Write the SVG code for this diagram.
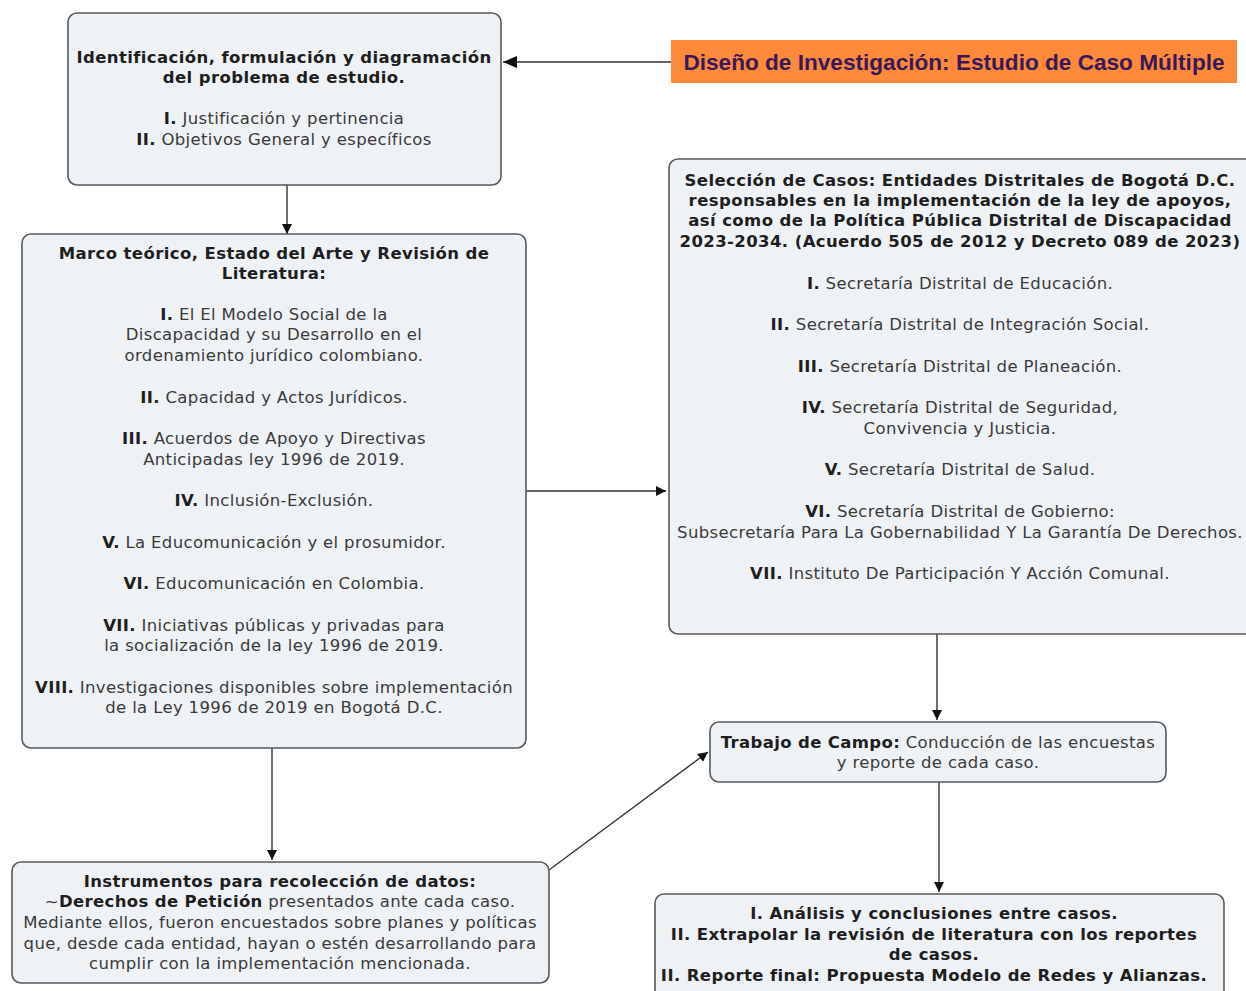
<svg xmlns="http://www.w3.org/2000/svg" width="1246" height="991" viewBox="0 0 1246 991">
<style>
.box{fill:#eef2f5;stroke:#555a5e;stroke-width:1.6}
text{font-family:"DejaVu Sans",Verdana,sans-serif;font-size:16.5px;letter-spacing:0.35px;fill:#3a3a3a;text-anchor:middle}
.h{font-weight:bold;fill:#1e1e1e;letter-spacing:0.4px}
.b{font-weight:bold;fill:#1e1e1e}
.con{stroke:#333;stroke-width:1.4;fill:none;marker-end:url(#arr)}
.title{font-family:"Liberation Sans",Arial,sans-serif;font-weight:bold;font-size:22.6px;letter-spacing:0;fill:#3a1858;text-anchor:middle}
</style>
<defs>
<marker id="arr" viewBox="0 0 10 10" refX="10" refY="5" markerWidth="10" markerHeight="10" markerUnits="userSpaceOnUse" orient="auto">
<path d="M0,0 L10,5 L0,10 z" fill="#111"/>
</marker>
</defs>
<rect width="1246" height="991" fill="#ffffff"/>
<g id="connectors">
<path class="con" d="M671,62 L503,62" style="marker-end:none"/>
<path d="M503,62 L517,56 L517,68 z" fill="#111"/>
<path class="con" d="M287,185 L287,234"/>
<path class="con" d="M526,491 L666,491"/>
<path class="con" d="M937,634 L937,720"/>
<path class="con" d="M272,748 L272,860"/>
<path class="con" d="M549,870 L708,752"/>
<path class="con" d="M939,782 L939,892"/>
</g>
<g id="n-problema">
<rect class="box" x="68" y="13" width="433" height="172" rx="9"/>
<text x="284" y="63" class="h">Identificación, formulación y diagramación</text>
<text x="284" y="83" class="h">del problema de estudio.</text>
<text x="284" y="124"><tspan class="b">I.</tspan> Justificación y pertinencia</text>
<text x="284" y="145"><tspan class="b">II.</tspan> Objetivos General y específicos</text>
</g>
<g id="n-diseno">
<rect x="671" y="40" width="566" height="43" fill="#fd8a3b"/>
<text class="title" x="954" y="70">Diseño de Investigación: Estudio de Caso Múltiple</text>
</g>
<g id="n-marco">
<rect class="box" x="22" y="234" width="504" height="514" rx="9"/>
<text x="274" y="259" class="h">Marco teórico, Estado del Arte y Revisión de</text>
<text x="274" y="279" class="h">Literatura:</text>
<text x="274" y="320"><tspan class="b">I.</tspan> El El Modelo Social de la</text>
<text x="274" y="340">Discapacidad y su Desarrollo en el</text>
<text x="274" y="361">ordenamiento jurídico colombiano.</text>
<text x="274" y="403"><tspan class="b">II.</tspan> Capacidad y Actos Jurídicos.</text>
<text x="274" y="444"><tspan class="b">III.</tspan> Acuerdos de Apoyo y Directivas</text>
<text x="274" y="465">Anticipadas ley 1996 de 2019.</text>
<text x="274" y="506"><tspan class="b">IV.</tspan> Inclusión-Exclusión.</text>
<text x="274" y="548"><tspan class="b">V.</tspan> La Educomunicación y el prosumidor.</text>
<text x="274" y="589"><tspan class="b">VI.</tspan> Educomunicación en Colombia.</text>
<text x="274" y="631"><tspan class="b">VII.</tspan> Iniciativas públicas y privadas para</text>
<text x="274" y="651">la socialización de la ley 1996 de 2019.</text>
<text x="274" y="693"><tspan class="b">VIII.</tspan> Investigaciones disponibles sobre implementación</text>
<text x="274" y="713">de la Ley 1996 de 2019 en Bogotá D.C.</text>
</g>
<g id="n-seleccion">
<rect class="box" x="669" y="159" width="586" height="475" rx="9"/>
<text x="960" y="186" class="h">Selección de Casos: Entidades Distritales de Bogotá D.C.</text>
<text x="960" y="206" class="h">responsables en la implementación de la ley de apoyos,</text>
<text x="960" y="226" class="h">así como de la Política Pública Distrital de Discapacidad</text>
<text x="960" y="247" class="h">2023-2034. (Acuerdo 505 de 2012 y Decreto 089 de 2023)</text>
<text x="960" y="289"><tspan class="b">I.</tspan> Secretaría Distrital de Educación.</text>
<text x="960" y="330"><tspan class="b">II.</tspan> Secretaría Distrital de Integración Social.</text>
<text x="960" y="372"><tspan class="b">III.</tspan> Secretaría Distrital de Planeación.</text>
<text x="960" y="413"><tspan class="b">IV.</tspan> Secretaría Distrital de Seguridad,</text>
<text x="960" y="434">Convivencia  y Justicia.</text>
<text x="960" y="475"><tspan class="b">V.</tspan> Secretaría Distrital de Salud.</text>
<text x="960" y="517"><tspan class="b">VI.</tspan> Secretaría Distrital de Gobierno:</text>
<text x="960" y="538">Subsecretaría Para La Gobernabilidad Y La Garantía De Derechos.</text>
<text x="960" y="579"><tspan class="b">VII.</tspan> Instituto De Participación Y Acción Comunal.</text>
</g>
<g id="n-trabajo">
<rect class="box" x="710" y="722" width="456" height="60" rx="9"/>
<text x="938" y="748"><tspan class="b">Trabajo de Campo:</tspan> Conducción de las encuestas</text>
<text x="938" y="768">y reporte de cada caso.</text>
</g>
<g id="n-instrumentos">
<rect class="box" x="12" y="862" width="537" height="121" rx="9"/>
<text x="280" y="887" class="h">Instrumentos para recolección de datos:</text>
<text x="280" y="907">~<tspan class="b">Derechos de Petición</tspan> presentados ante cada caso.</text>
<text x="280" y="928">Mediante ellos, fueron encuestados sobre planes y políticas</text>
<text x="280" y="949">que, desde cada entidad, hayan o estén desarrollando para</text>
<text x="280" y="969">cumplir con la implementación mencionada.</text>
</g>
<g id="n-final">
<rect class="box" x="655" y="894" width="569" height="110" rx="9"/>
<text x="934" y="919" class="h">I. Análisis y conclusiones entre casos.</text>
<text x="934" y="940" class="h">II. Extrapolar la revisión de literatura con los reportes</text>
<text x="934" y="960" class="h">de casos.</text>
<text x="934" y="981" class="h">II. Reporte final: Propuesta Modelo de Redes y Alianzas.</text>
</g>
</svg>
